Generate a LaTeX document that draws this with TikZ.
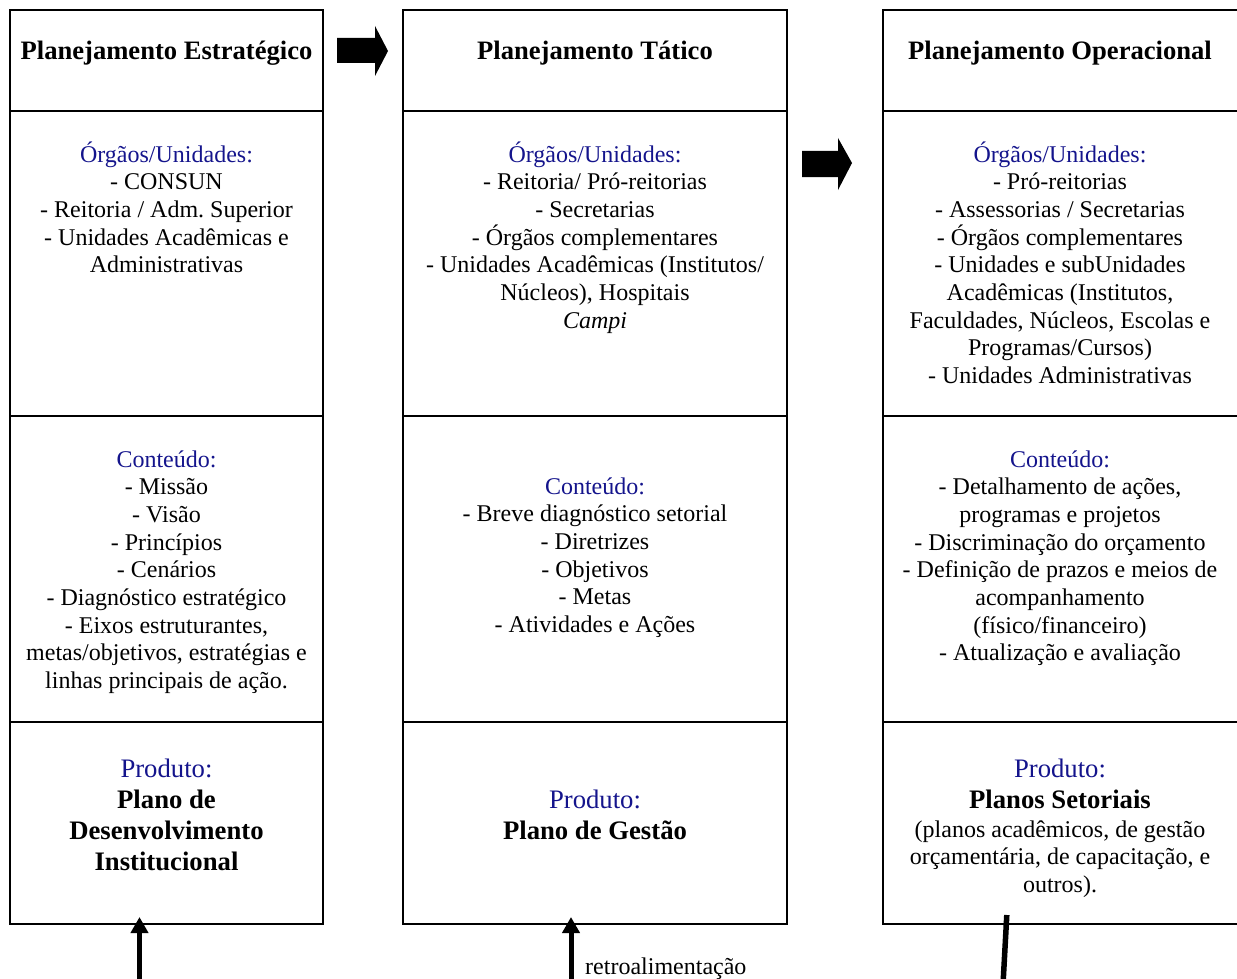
\documentclass[tikz,border=0pt]{standalone}
\usepackage{fontspec}
\setmainfont{Liberation Serif}
\usetikzlibrary{arrows.meta}
\definecolor{lblblue}{RGB}{20,20,140}
\frenchspacing
\begin{document}
\begin{tikzpicture}[x=1pt,y=-1pt,
  frame/.style={line width=2pt},
  head/.style={anchor=base, align=flush center, inner sep=0pt, text width=#1,
    font=\bfseries\fontsize{26.6}{30}\selectfont},
  body/.style={anchor=base, align=flush center, inner sep=0pt, text width=#1,
    font=\fontsize{24}{27.7}\selectfont},
  prod/.style={anchor=base, align=flush center, inner sep=0pt, text width=#1,
    font=\fontsize{26.7}{31}\selectfont},
  blockarrow/.style={fill=black},
  feedback/.style={line width=5pt, -{Triangle[length=16pt,width=17pt]}},
]
\useasboundingbox (0,0) rectangle (1237,979);

% ---- column frames ----
\node[frame, draw, minimum width=313pt, minimum height=914pt, inner sep=0pt]
  (colA) at (166.5,467) {};
\node[frame, draw, minimum width=384pt, minimum height=914pt, inner sep=0pt]
  (colB) at (595,467) {};
\draw[frame] (1240,10) -| (883,924) -- (1240,924);
\coordinate (colC) at (1060,467);

% row dividers
\foreach \y in {111,416,722}{
  \draw[frame] (10,\y) -- (323,\y);
  \draw[frame] (403,\y) -- (787,\y);
  \draw[frame] (883,\y) -- (1240,\y);
}

% ---- headings ----
\node[head=310pt] (hA) at (166.5,60) {Planejamento Estratégico};
\node[head=380pt] (hB) at (595,60) {Planejamento Tático};
\node[head=350pt] (hC) at (1060,60) {Planejamento Operacional};

% ---- units ----
\node[body=310pt] (uA) at (166.5,162) {\textcolor{lblblue}{Órgãos/Unidades:}\\
  - CONSUN\\
  - Reitoria / Adm. Superior\\
  - Unidades Acadêmicas e\\
  Administrativas};
\node[body=380pt] (uB) at (595,162) {\textcolor{lblblue}{Órgãos/Unidades:}\\
  - Reitoria/ Pró-reitorias\\
  - Secretarias\\
  - Órgãos complementares\\
  - Unidades Acadêmicas (Institutos/\\
  Núcleos), Hospitais\\
  \textit{Campi}};
\node[body=350pt] (uC) at (1060,162) {\textcolor{lblblue}{Órgãos/Unidades:}\\
  - Pró-reitorias\\
  - Assessorias / Secretarias\\
  - Órgãos complementares\\
  - Unidades e subUnidades\\
  Acadêmicas (Institutos,\\
  Faculdades, Núcleos, Escolas e\\
  Programas/Cursos)\\
  - Unidades Administrativas};

% ---- contents ----
\node[body=310pt] (cA) at (166.5,467) {\textcolor{lblblue}{Conteúdo:}\\
  - Missão\\
  - Visão\\
  - Princípios\\
  - Cenários\\
  - Diagnóstico estratégico\\
  - Eixos estruturantes,\\
  metas/objetivos, estratégias e\\
  linhas principais de ação.};
\node[body=380pt] (cB) at (595,494) {\textcolor{lblblue}{Conteúdo:}\\
  - Breve diagnóstico setorial\\
  - Diretrizes\\
  - Objetivos\\
  - Metas\\
  - Atividades e Ações};
\node[body=350pt] (cC) at (1060,467) {\textcolor{lblblue}{Conteúdo:}\\
  - Detalhamento de ações,\\
  programas e projetos\\
  - Discriminação do orçamento\\
  - Definição de prazos e meios de\\
  acompanhamento\\
  (físico/financeiro)\\
  - Atualização e avaliação};

% ---- products ----
\node[prod=310pt] (pA) at (166.5,777) {\textcolor{lblblue}{Produto:}\\
  \textbf{Plano de}\\
  \textbf{Desenvolvimento}\\
  \textbf{Institucional}};
\node[prod=380pt] (pB) at (595,808) {\textcolor{lblblue}{Produto:}\\
  \textbf{Plano de Gestão}};
\node[prod=350pt] (pC) at (1060,777) {\textcolor{lblblue}{Produto:}\\
  \textbf{Planos Setoriais}};
\node[body=350pt] (pCx) at (1060,837) {(planos acadêmicos, de gestão\\
  orçamentária, de capacitação, e\\
  outros).};

% ---- block arrows between levels ----
\fill[blockarrow] (337,38) -- (375,38) -- (375,26) -- (388,51) -- (375,76)
  -- (375,63) -- (337,63) -- cycle;
\fill[blockarrow] (802,151) -- (838,151) -- (838,138) -- (852,163) -- (838,190)
  -- (838,177) -- (802,177) -- cycle;

% ---- feedback arrows ----
\coordinate (fbA0) at (139.5,990);
\coordinate (fbA1) at (139.5,917);
\coordinate (fbB0) at (571,990);
\coordinate (fbB1) at (571,917);
\coordinate (fbC0) at (1002.7,990);
\coordinate (fbC1) at (1006.8,915);
\draw[feedback] (fbA0) -- (fbA1);
\draw[feedback] (fbB0) -- (fbB1);
\draw[line width=5.5pt] (fbC0) -- (fbC1);
\node[anchor=base west, inner sep=0pt, font=\fontsize{24}{27.7}\selectfont]
  (retro) at (585,974) {retroalimentação};
\end{tikzpicture}
\end{document}
